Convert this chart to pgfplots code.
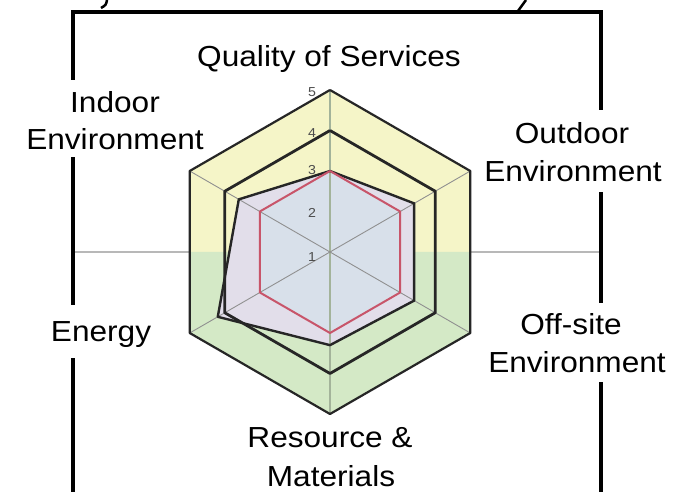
\documentclass[border=0pt]{standalone}
\usepackage{fontspec}
\setmainfont{Liberation Sans}[FakeStretch=1.09]
\usepackage{pgfplots}
\pgfplotsset{compat=1.18}
\usepgfplotslibrary{polar}
\definecolor{ringY}{HTML}{F5F5C8}
\definecolor{ringG}{HTML}{D4E9C6}
\definecolor{dataFill}{HTML}{E2DEEA}
\definecolor{innerFill}{HTML}{D8E0EA}
\definecolor{redline}{HTML}{C8556A}
\definecolor{spokeV}{HTML}{A3B39A}
\definecolor{spokeD}{HTML}{909090}
\definecolor{bggray}{HTML}{B8B8B8}
\newcommand\lbl{\fontsize{29}{34}\selectfont}
\begin{document}
\begin{tikzpicture}[x=1pt,y=1pt]
\useasboundingbox (0,0) rectangle (683,492);
\fill[white] (0,0) rectangle (683,492);
% frame and background line
\draw[line width=4pt, black, line join=miter] (73,0) -- (73,480) -- (601,480) -- (601,0);
\draw[bggray, line width=2.5pt] (75,240) -- (599,240);
\draw[line width=2.5pt] (107,492) .. controls (106,487) .. (101,484);
\draw[line width=2.5pt] (526,492) -- (518,481);

\begin{polaraxis}[at={(330pt,240pt)}, anchor=center, scale only axis,
  width=324pt, height=324pt, xmin=0, xmax=360, ymin=0, ymax=4,
  hide axis, clip=false, y filter/.expression={y-1}]
% background halves of the outer ring
\addplot[fill=ringY, draw=none] coordinates {(0,4.4641) (30,5) (90,5) (150,5) (180,4.4641) (0,4.4641)};
\addplot[fill=ringG, draw=none] coordinates {(0,4.4641) (-30,5) (-90,5) (-150,5) (180,4.4641) (0,4.4641)};
% data polygon fill
\addplot[fill=dataFill, draw=none] coordinates {(90,3.0) (30,3.4) (-30,3.4) (-90,3.3) (210,4.2) (150,3.6) (90,3.0)};
% inner (level 3) fill
\addplot[fill=innerFill, draw=none] coordinates {(90,3) (30,3) (-30,3) (-90,3) (210,3) (150,3) (90,3)};
% spokes
\addplot[spokeV, line width=1.1pt] coordinates {(90,5) (270,5)};
\addplot[spokeD, line width=0.9pt] coordinates {(30,5) (210,5)};
\addplot[spokeD, line width=0.9pt] coordinates {(150,5) (330,5)};
% data line
\addplot[black!85, line width=2.4pt, line join=round] coordinates {(90,3.0) (30,3.4) (-30,3.4) (-90,3.3) (210,4.2) (150,3.6) (90,3.0)};
% level 3 red hexagon
\addplot[redline, line width=2pt, line join=round] coordinates {(90,3) (30,3) (-30,3) (-90,3) (210,3) (150,3) (90,3)};
% level 4 and 5 hexagons
\addplot[black!85, line width=2.8pt, line join=round] coordinates {(90,4) (30,4) (-30,4) (-90,4) (210,4) (150,4) (90,4)};
\addplot[black!85, line width=2.2pt, line join=round] coordinates {(90,5) (30,5) (-30,5) (-90,5) (210,5) (150,5) (90,5)};
\end{polaraxis}

% scale numbers
\foreach \v/\yy in {1/235, 2/279, 3/322, 4/359, 5/400}
  \node[font=\fontsize{13}{13}\selectfont, text=black!70] at (312,\yy) {\v};

% white label boxes
\fill[white] (20,335) rectangle (205,412);
\fill[white] (478,300) rectangle (672,382);
\fill[white] (40,134) rectangle (165,187);
\fill[white] (478,110) rectangle (678,189);

% labels
\node[anchor=base, font=\lbl, inner sep=0pt] at (329,425) {Quality of Services};
\node[anchor=base, font=\lbl, inner sep=0pt] at (115,379) {Indoor};
\node[anchor=base, font=\lbl, inner sep=0pt] at (115,342) {Environment};
\node[anchor=base, font=\lbl, inner sep=0pt] at (572,348) {Outdoor};
\node[anchor=base, font=\lbl, inner sep=0pt] at (573,310) {Environment};
\node[anchor=base, font=\lbl, inner sep=0pt] at (101,150) {Energy};
\node[anchor=base, font=\lbl, inner sep=0pt] at (571,157) {Off-site};
\node[anchor=base, font=\lbl, inner sep=0pt] at (577,119) {Environment};
\node[anchor=base, font=\lbl, inner sep=0pt] at (330,44) {Resource \&};
\node[anchor=base, font=\lbl, inner sep=0pt] at (331,5) {Materials};
\end{tikzpicture}
\end{document}
